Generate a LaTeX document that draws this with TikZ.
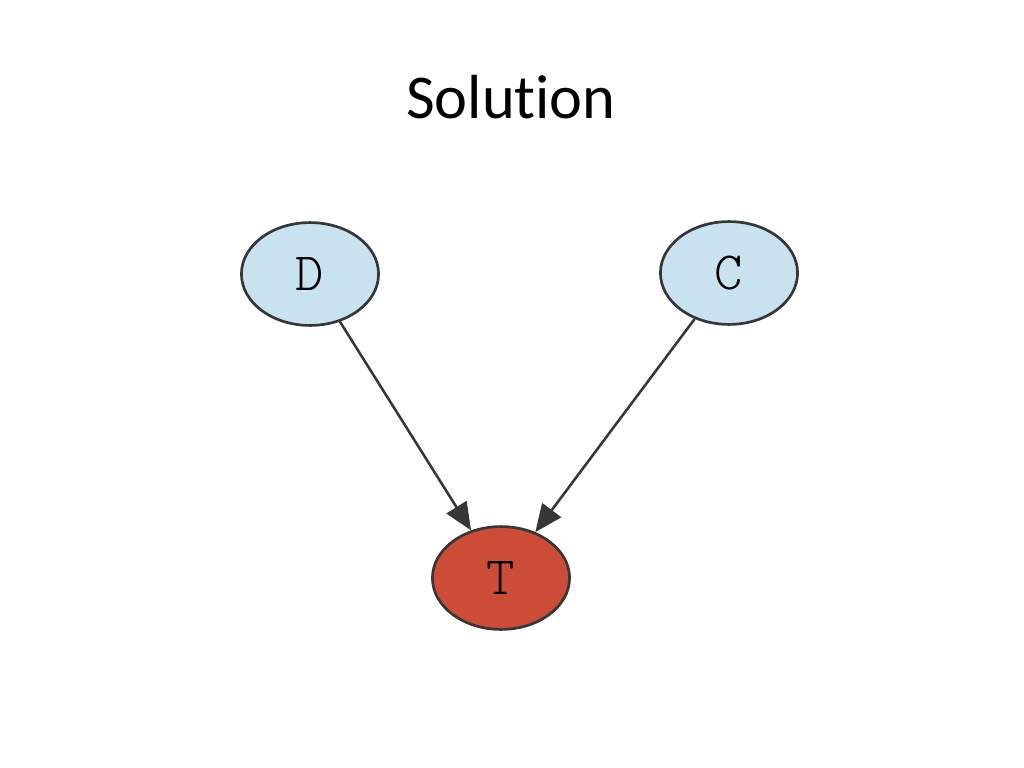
\documentclass[tikz,border=0pt]{standalone}
\usepackage{fontspec}
\setmainfont{Carlito}[Ligatures=NoCommon]
\newfontfamily\nodefont{lmmonolt10-regular.otf}
\usetikzlibrary{shapes.geometric, arrows.meta}

\definecolor{nodeblue}{RGB}{200,227,239}
\definecolor{nodered}{RGB}{204,76,56}
\definecolor{edgegray}{RGB}{55,55,55}

\tikzset{
    varnode/.style={ellipse, draw=edgegray, line width=1.9pt,
        minimum width=3.4cm, minimum height=2.55cm, inner sep=0pt,
        font=\nodefont\fontsize{38}{38}\selectfont},
    dep/.style={edgegray, line width=1.8pt,
        -{Triangle[length=0.68cm, width=0.58cm]}}
}

\begin{document}
\begin{tikzpicture}[x=0.0248cm, y=-0.0248cm]
            \useasboundingbox (0,0) rectangle (1024,768);

            \node[font=\fontsize{44}{48}\selectfont] (title) at (511,97) {Solution};

            \node[varnode, fill=nodeblue] (D) at (310,274) {D};
            \node[varnode, fill=nodeblue] (C) at (729,273) {C};
            \node[varnode, fill=nodered] (T) at (501,578) {T};

            \foreach \p in {D, C} {
                    \draw[dep] (\p) -- (T);
                }

        \end{tikzpicture}
\end{document}
